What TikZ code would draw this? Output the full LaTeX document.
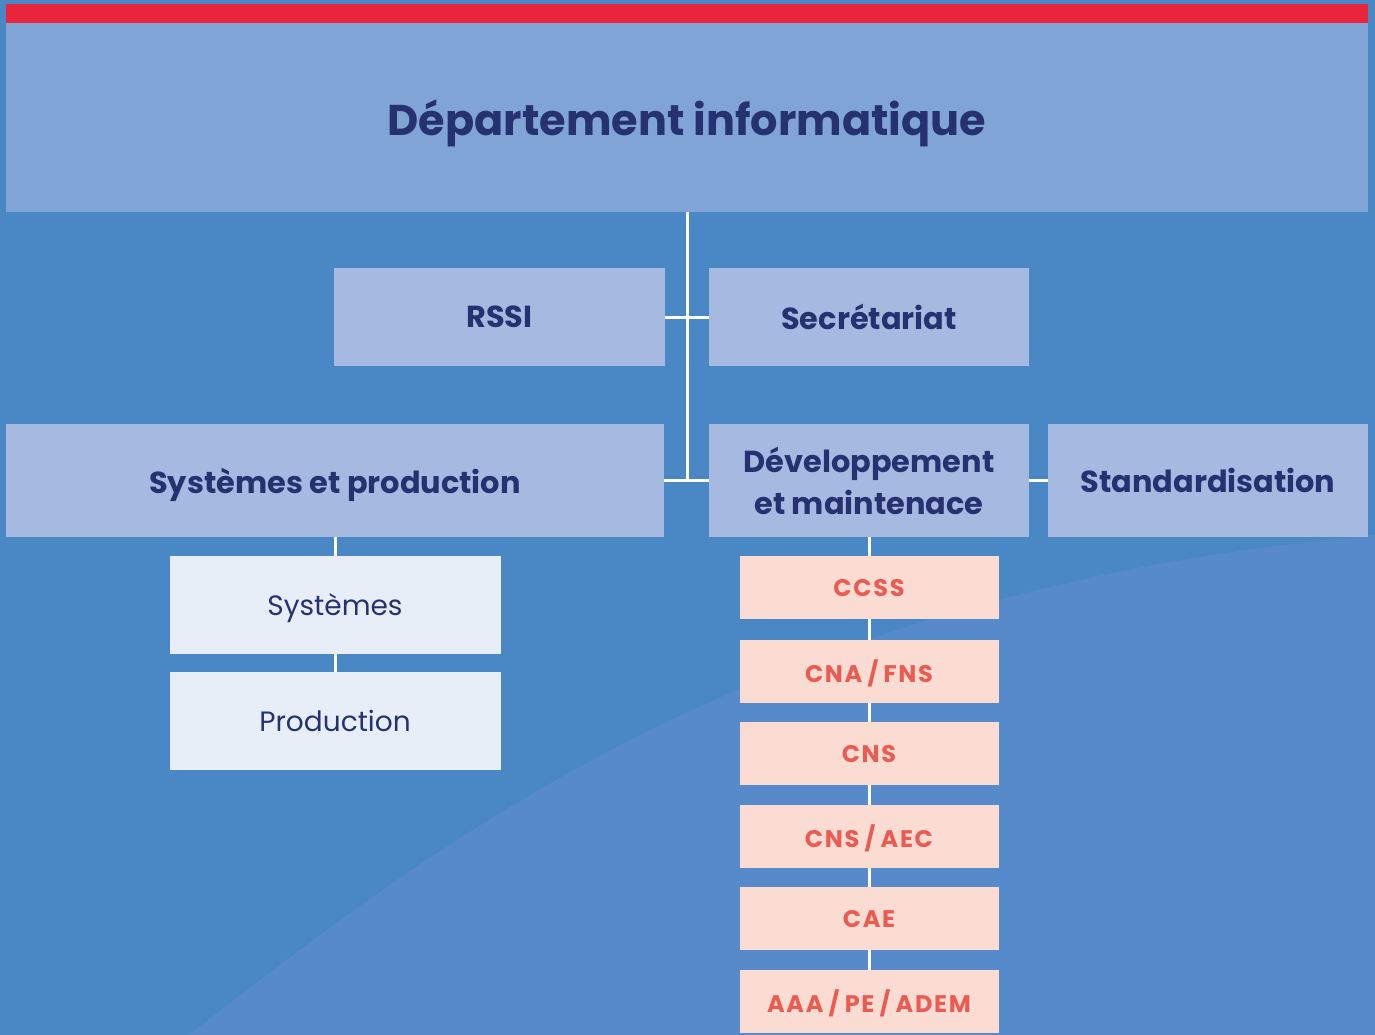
\documentclass[tikz,border=0pt]{standalone}
\usepackage{fontspec}
\setmainfont{Poppins}
\definecolor{bgblue}{RGB}{74,135,197}
\definecolor{bglight}{RGB}{86,138,202}
\definecolor{topblue}{RGB}{129,164,215}
\definecolor{redbar}{RGB}{232,37,58}
\definecolor{midblue}{RGB}{166,185,225}
\definecolor{paleblue}{RGB}{232,238,248}
\definecolor{pinkbox}{RGB}{250,220,211}
\definecolor{pinktext}{RGB}{236,91,82}
\definecolor{navy}{RGB}{38,50,111}
\newcommand{\slsh}{\hspace{2.6pt}/\hspace{2.6pt}}
\tikzset{
  midbox/.style={fill=midblue, text=navy, inner sep=0pt, align=center, text depth=0pt, font=\fontsize{15.2}{21}\selectfont\bfseries},
  palebox/.style={fill=paleblue, text=navy, inner sep=0pt, text depth=0pt, font=\fontsize{14}{18}\selectfont, minimum width=165.5pt, minimum height=49pt},
  pinkbox/.style={fill=pinkbox, text=pinktext, inner sep=0pt, text depth=0pt, font=\fontsize{12}{14}\selectfont\bfseries\addfontfeatures{LetterSpace=7}, minimum width=129.5pt, minimum height=31.5pt},
  link/.style={draw=white, line width=1.5pt}
}
\begin{document}
\begin{tikzpicture}[x=0.5pt, y=-0.5pt]
  \useasboundingbox (0,0) rectangle (1375,1034);
  % background
  \fill[bgblue] (-10,-10) rectangle (1385,1044);
  \begin{scope}
    \clip (-10,-10) rectangle (1385,1044);
    \fill[bglight] (190,1034) .. controls (440,840) and (760,590) .. (1375,535) -- (1390,533) -- (1390,1050) -- (170,1050) -- cycle;
  \end{scope}
  % red bar
  \fill[redbar] (6,4) rectangle (1368,23);
  % nodes
  \node[fill=topblue, text=navy, inner sep=0pt, text depth=0pt, minimum width=681pt, minimum height=94.5pt, font=\fontsize{21.5}{24}\selectfont\bfseries] (top) at (687,117.5) {Département informatique};
  \node[midbox, minimum width=165.5pt, minimum height=49pt] (rssi) at (499.5,317) {RSSI};
  \node[midbox, minimum width=160pt, minimum height=49pt] (sec) at (869,317) {Secrétariat};
  \node[midbox, minimum width=329pt, minimum height=56.5pt] (sp) at (335,480.5) {Systèmes et production};
  \node[midbox, minimum width=160pt, minimum height=56.5pt] (dev) at (869,480.5) {Développement\\et maintenace};
  \node[midbox, minimum width=160pt, minimum height=56.5pt] (std) at (1208,480.5) {Standardisation};
  \node[palebox] (sys) at (335,605) {Systèmes};
  \node[palebox] (prod) at (335,721) {Production};
  \node[pinkbox] (p1) at (869,587.5) {CCSS};
  \node[pinkbox] (p2) at (869,671.5) {CNA\slsh FNS};
  \node[pinkbox] (p3) at (869,753.5) {CNS};
  \node[pinkbox] (p4) at (869,836.5) {CNS\slsh AEC};
  \node[pinkbox] (p5) at (869,918.5) {CAE};
  \node[pinkbox] (p6) at (869,1001.5) {AAA\slsh PE\slsh ADEM};
  % connectors
  \coordinate (j2) at (687,480.5);
  \draw[link] (top.south) -- (j2);
  \draw[link] (rssi.east) -- (sec.west);
  \draw[link] (sp.east) -- (dev.west);
  \draw[link] (dev.east) -- (std.west);
  \draw[link] (sp.south) -- (sys.north);
  \draw[link] (sys.south) -- (prod.north);
  \draw[link] (dev.south) -- (p1.north);
  \draw[link] (p1.south) -- (p2.north);
  \draw[link] (p2.south) -- (p3.north);
  \draw[link] (p3.south) -- (p4.north);
  \draw[link] (p4.south) -- (p5.north);
  \draw[link] (p5.south) -- (p6.north);
\end{tikzpicture}
\end{document}
